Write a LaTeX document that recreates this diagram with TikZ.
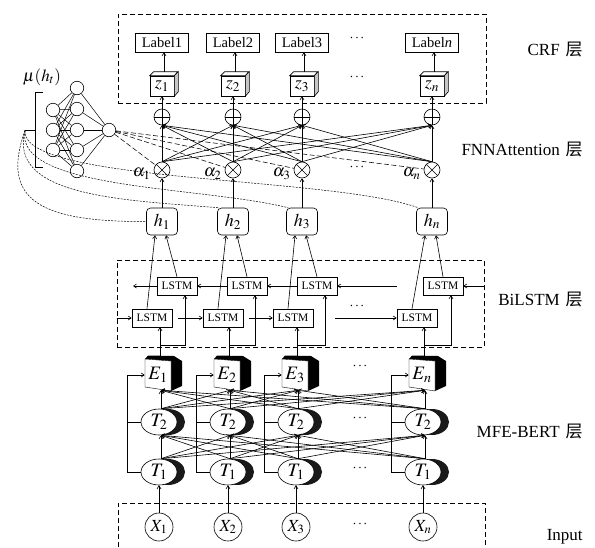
\documentclass[tikz,border=0pt]{standalone}
\usepackage{mathptmx}
\usepackage{fontspec}
\setmainfont{Liberation Serif}
\newfontfamily\cjk{Noto Sans CJK SC}
\usetikzlibrary{arrows.meta,shapes.geometric}
\begin{document}
\begin{tikzpicture}[x=1pt,y=-1pt, line width=0.6pt,
  arr/.style={-{Straight Barb[length=3pt,width=4pt]}},
  lab/.style={draw, rectangle, inner sep=0pt, minimum width=53pt, minimum height=19pt, font=\fontsize{14.5}{14.5}\selectfont},
  lstm/.style={draw, rectangle, fill=white, inner sep=0pt, minimum width=40pt, minimum height=18pt, font=\fontsize{11.5}{12}\selectfont},
  hbox/.style={draw, rounded corners=4pt, minimum width=31pt, minimum height=27pt, inner sep=0pt, font=\fontsize{18}{18}\selectfont},
  cubef/.style={draw, fill=white, minimum width=24pt, minimum height=20pt, inner sep=0pt, font=\fontsize{18}{18}\selectfont},
  op/.style={circle, draw, fill=white, minimum size=16pt, inner sep=0pt, path picture={\draw (path picture bounding box.north) -- (path picture bounding box.south) (path picture bounding box.west) -- (path picture bounding box.east);}},
  ot/.style={circle, draw, fill=white, minimum size=16pt, inner sep=0pt, path picture={\draw (path picture bounding box.north west) -- (path picture bounding box.south east) (path picture bounding box.north east) -- (path picture bounding box.south west);}},
  xc/.style={circle, draw, minimum size=28pt, inner sep=0pt, font=\fontsize{17}{17}\selectfont},
  tel/.style={ellipse, draw, fill=white, minimum width=36pt, minimum height=26pt, inner sep=0pt, font=\fontsize{19}{19}\selectfont},
  nn/.style={circle, draw, fill=white, minimum size=13.5pt, inner sep=0pt},
  boxdash/.style={dash pattern=on 5pt off 3pt},
  fine/.style={dash pattern=on 2pt off 1.2pt, line width=0.5pt},
  ndash/.style={dash pattern=on 5pt off 2.5pt, line width=0.55pt},
  rtext/.style={anchor=east, inner sep=0pt, font=\fontsize{17}{17}\selectfont},
  dts/.style={font=\fontsize{14}{14}\selectfont}
]
\useasboundingbox (0,0) rectangle (595,547);

% dashed frames
\node[draw, boxdash, inner sep=0pt, minimum width=368pt, minimum height=89pt] (crf) at (302,58.5) {};
\node[draw, boxdash, inner sep=0pt, minimum width=367pt, minimum height=87pt] (bil) at (300.5,303.5) {};
\draw[boxdash] (118,547) -- (118,503) -- (485,503) -- (485,547);

% right labels
\node[rtext] (tcrf) at (583,50) {CRF\hspace{0.35em}{\cjk 层}};
\node[rtext] (tatt) at (583,150) {FNNAttention\hspace{0.35em}{\cjk 层}};
\node[rtext] (tbil) at (583,300) {BiLSTM\hspace{0.35em}{\cjk 层}};
\node[rtext] (tbert) at (583,432) {MFE-BERT\hspace{0.35em}{\cjk 层}};
\node[rtext] (tin) at (583,537) {Input};

% upper columns
\foreach \i/\cx/\lt in {1/162/1, 2/233/2, 3/302/3, n/432/{\textit{n}}}{
  \node[lab] (L\i) at (\cx,42.5) {Label\lt};
  \node[cubef] (z\i) at (\cx,86) {$z_{\i}$};
  \draw[fill=white] (z\i.north west) -- ++(4,-4) -- ++(24,0) -- (z\i.north east) -- cycle;
  \draw[fill=gray!45] (z\i.north east) -- ++(4,-4) -- ++(0,20) -- (z\i.south east) -- cycle;
  \draw[arr] ([xshift=2pt,yshift=4pt]z\i.north) -- ([xshift=2pt]L\i.south);
  \node[op] (P\i) at (\cx,117) {};
  \node[ot] (A\i) at (\cx,170) {};
  \node[anchor=east, inner sep=0pt, font=\fontsize{17}{17}\selectfont] (al\i) at ([xshift=-3pt,yshift=-4pt]A\i.west) {$\alpha_{\i}$};
  \node[hbox] (H\i) at (\cx,221.5) {$h_{\i}$};
  \draw[arr] (H\i) -- (A\i);
  \draw[arr] (P\i) -- (z\i);
}
\foreach \i in {1,2,3,n}{
  \foreach \j in {1,2,3,n}{
    \draw[arr] (A\i.north) -- (P\j.south);
  }
}
\node[dts] (d1) at (357,38) {$\cdots$};
\node[dts] (d2) at (357,77) {$\cdots$};
\node[dts] (d3) at (357,167) {$\cdots$};

% neural network mu(h_t)
\node[font=\fontsize{17}{17}\selectfont] (mu) at (42,77) {$\mu(h_t)$};
\foreach \a/\y in {1/110,2/130,3/150}{ \node[nn] (I\a) at (53,\y) {}; }
\foreach \b/\y in {1/88,2/109,3/130,4/150,5/171}{ \node[nn] (N\b) at (77,\y) {}; }
\node[nn] (O) at (109,130) {};
\foreach \a in {1,2,3}{ \foreach \b in {1,...,5}{ \draw[line width=0.5pt] (I\a) -- (N\b); } }
\foreach \b in {1,...,5}{ \draw[line width=0.5pt] (N\b) -- (O); }
\draw (43,92) -- (35,92) -- (35,167) -- (43,167);
\draw (35,130) -- (25,130);
\coordinate (tip) at (25,130.5);
\foreach \i in {1,2,3,n}{ \draw[ndash] (O) -- (A\i); }
\draw[fine] (tip) .. controls (0,200) and (40,222) .. (H1.west);
\draw[fine] (tip) .. controls (8,196) and (120,200) .. ([xshift=2pt]H2.north west);
\draw[fine] (tip) .. controls (14,190) and (200,186) .. ([xshift=2pt]H3.north west);
\draw[fine] (tip) .. controls (20,183) and (330,176) .. ([xshift=2pt]Hn.north west);

% BiLSTM
\foreach \i/\cx/\fx/\bwx in {1/162/152/177, 2/233/223/247, 3/302/293/317, n/432/417/443}{
  \node[lstm] (F\i) at (\fx,318) {LSTM};
  \node[lstm] (B\i) at (\bwx,286) {LSTM};
  \draw[arr] ([xshift=-5pt]F\i.north) -- ([xshift=-7pt]H\i.south);
  \draw[arr] (B\i.north) -- ([xshift=4pt]H\i.south);
}
\draw[arr] (bil.west |- F1) -- (F1);
\draw[arr] ([xshift=6pt]F1.east) -- (F2.west);
\draw[arr] ([xshift=6pt]F2.east) -- (F3.west);
\draw[arr] ([xshift=22pt]F3.east) -- (Fn.west);
\draw[arr] (bil.east |- Bn) -- (Bn.east);
\draw[arr] ([xshift=-26pt]Bn.west) -- (B3.east);
\draw[arr] (B3.west) -- (B2.east);
\draw[arr] (B2.west) -- (B1.east);
\coordinate (bout) at (133,286);
\draw[arr] (B1.west) -- (bout);
\node[dts] (d4) at (357,306) {$\cdots$};

% MFE-BERT
\foreach \i/\bx/\fx/\bwx in {1/159/152/177, 2/228/223/247, 3/296/293/317, n/423/417/443}{
  \fill[black] (\bx-14,359) -- (\bx-11,355.5) -- (\bx+15,356) -- (\bx+23,361) -- (\bx+23,386) -- (\bx+12,391) -- (\bx+12,361) -- cycle;
  \draw[fill=white, line width=0.4pt] (\bx-14,359) -- (\bx+12,361) -- (\bx+12,391) -- (\bx-14,387) -- cycle;
  \node[inner sep=0pt, minimum width=26pt, minimum height=30pt, font=\fontsize{19}{19}\selectfont] (E\i) at (\bx-1,375) {$E_{\i}$};
  \fill[black!90] (\bx+9,422) ellipse [x radius=17pt, y radius=13pt];
  \fill[black!90] (\bx+9,472) ellipse [x radius=17pt, y radius=13pt];
  \node[tel] (Tb\i) at (\bx,422) {$T_2$};
  \node[tel] (Ta\i) at (\bx,472) {$T_1$};
  \node[xc] (X\i) at (\bx,527) {$X_{\i}$};
  \draw[arr] (X\i) -- (Ta\i);
  \draw[arr] (Ta\i.west) -- ++(-13,0) |- (E\i.west);
  \draw (Tb\i.west) -- ++(-13,0);
  \coordinate (Eo\i) at (\bx+1,358);
  \draw[arr] (Eo\i) -- (Eo\i |- F\i.south);
  \draw[arr] (Eo\i |- 0,345) -| ([xshift=8pt]B\i.south);
}
\foreach \i in {1,2,3,n}{
  \foreach \j in {1,2,3,n}{
    \draw[arr] ([xshift=2pt]Ta\i.north) -- ([xshift=2pt]Tb\j.south);
    \draw[arr] ([xshift=2pt]Tb\i.north) -- ([xshift=3pt]E\j.south);
  }
}
\node[dts] (d5) at (360,366) {$\cdots$};
\node[dts] (d6) at (360,418) {$\cdots$};
\node[dts] (d7) at (360,468) {$\cdots$};
\node[dts] (d8) at (360,524) {$\cdots$};
\end{tikzpicture}
\end{document}
